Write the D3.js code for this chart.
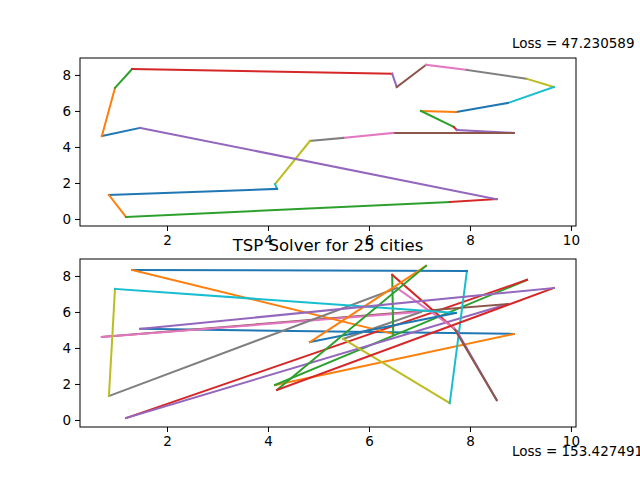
<!DOCTYPE html>
<html>
<head>
<meta charset="utf-8">
<script src="https://d3js.org/d3.v7.min.js"></script>
<style>
  body { margin: 0; background: #fff; }
  text { font-family: "DejaVu Sans", sans-serif; fill: #000; }
  .axis text { font-size: 13.5px; }
</style>
</head>
<body>
<svg id="tsp" width="640" height="480"></svg>
<script>
// city coordinates
const cityX = [0.71, 0.97, 1.31, 6.46, 6.55, 7.13, 7.94, 9.13, 9.66, 8.75, 7.72, 7.03, 7.68,
               7.74, 8.87, 6.48, 5.49, 4.83, 4.14, 4.18, 0.85, 1.19, 7.60, 8.53, 1.47];
const cityY = [4.61, 7.28, 8.33, 8.06, 7.33, 8.56, 8.28, 7.78, 7.33, 6.44, 5.94, 6.00, 5.11,
               4.94, 4.78, 4.78, 4.50, 4.33, 1.94, 1.67, 1.33, 0.11, 0.94, 1.10, 5.06];

// visiting order: solved tour (top) and initial random tour (bottom)
const solvedOrder = [24, 0, 1, 2, 3, 4, 5, 6, 7, 8, 9, 10, 11, 12, 13, 14, 15, 16, 17, 18, 19, 20, 21, 22, 23];
const randomOrder = [24, 14, 18, 7, 21, 9, 0, 11, 16, 22, 6, 2, 15, 3, 13, 23, 12, 4, 20, 1, 10, 17, 5, 19, 8];

const xTicks = [2, 4, 6, 8, 10];
const yTicks = [0, 2, 4, 6, 8];
const solvedLoss = "Loss = 47.230589";
const randomLoss = "Loss = 153.427491";
const title = "TSP Solver for 25 cities";

const colors = ["#1f77b4", "#ff7f0e", "#2ca02c", "#d62728", "#9467bd",
                "#8c564b", "#e377c2", "#7f7f7f", "#bcbd22", "#17becf"];

const svg = d3.select("svg#tsp");
const plotLeft = 80, plotRight = 576;

const x = d3.scaleLinear().domain([0.277, 10.1]).range([plotLeft, plotRight]);

function drawPanel(top, bottom, order) {
  const y = d3.scaleLinear().domain([-0.39, 8.94]).range([bottom, top]);
  const g = svg.append("g");

  order.forEach((c, i) => {
    const n = order[(i + 1) % order.length];
    g.append("line")
      .attr("x1", x(cityX[c])).attr("y1", y(cityY[c]))
      .attr("x2", x(cityX[n])).attr("y2", y(cityY[n]))
      .attr("stroke", colors[i % 10])
      .attr("stroke-width", 2)
      .attr("stroke-linecap", "square");
  });

  g.append("rect")
    .attr("x", plotLeft).attr("y", top)
    .attr("width", plotRight - plotLeft).attr("height", bottom - top)
    .attr("fill", "none").attr("stroke", "#000").attr("stroke-width", 1);

  g.append("g").attr("class", "axis")
    .attr("transform", "translate(0," + bottom + ")")
    .call(d3.axisBottom(x).tickValues(xTicks).tickSize(5).tickPadding(4).tickSizeOuter(0))
    .call(a => a.select(".domain").remove());

  g.append("g").attr("class", "axis")
    .attr("transform", "translate(" + plotLeft + ",0)")
    .call(d3.axisLeft(y).tickValues(yTicks).tickSize(5).tickPadding(4).tickSizeOuter(0))
    .call(a => a.select(".domain").remove());

  g.selectAll(".axis text").style("font-family", "DejaVu Sans");
}

drawPanel(58, 226, solvedOrder);
drawPanel(259, 427, randomOrder);

svg.append("text").attr("x", 512).attr("y", 48)
  .style("font-size", "13.5px").text(solvedLoss);
svg.append("text").attr("x", 512).attr("y", 456)
  .style("font-size", "13.5px").text(randomLoss);
svg.append("text").attr("x", 328).attr("y", 251)
  .attr("text-anchor", "middle").style("font-size", "16.5px").text(title);
</script>
</body>
</html>
